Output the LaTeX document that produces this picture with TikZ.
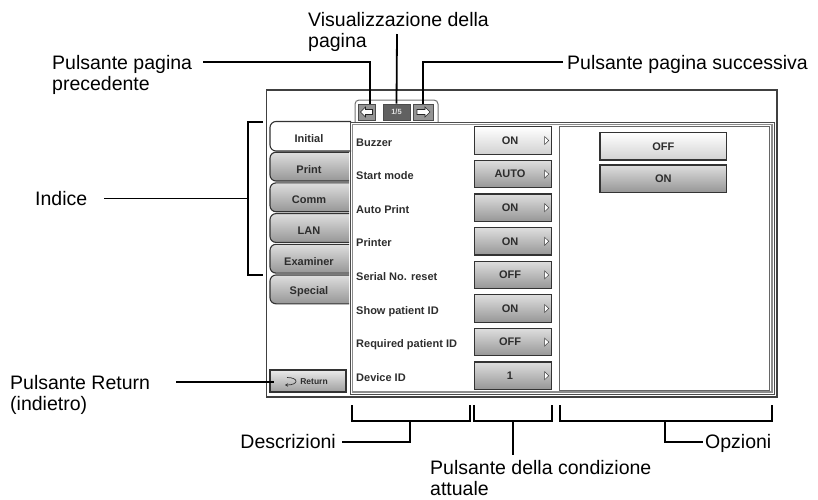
\documentclass[tikz,border=0pt]{standalone}
\usepackage{fontspec}
\setmainfont{Liberation Sans}
\usetikzlibrary{arrows.meta}
\definecolor{btop}{RGB}{222,222,222}
\definecolor{bmid}{RGB}{172,172,172}
\definecolor{bbot}{RGB}{150,150,150}
\definecolor{uitext}{RGB}{45,45,45}
\begin{document}
\begin{tikzpicture}[x=1pt,y=-1pt,
  lbl/.style={font=\fontsize{19.5}{21}\selectfont, inner sep=0pt, align=left},
  ui/.style={font=\fontsize{11}{13}\selectfont\bfseries, text=uitext, inner sep=0pt},
  leader/.style={line width=1.8pt, black},
  gbtn/.style={draw=black!80, line width=1.2pt, top color=btop, middle color=bmid, bottom color=bbot,
    minimum width=77pt, minimum height=27.5pt, inner sep=0pt, font=\fontsize{11}{13}\selectfont\bfseries, text=uitext},
  wbtn/.style={gbtn, top color=white, middle color=white!96!black, bottom color=black!18},
  tabg/.style={draw=black!80, line width=1.1pt, top color=btop, middle color=bmid, bottom color=bbot},
  tabw/.style={draw=black!80, line width=1.1pt, fill=white},
  tri/.style={fill=white, draw=black!75, line width=0.5pt},
  pgbtn/.style={draw=black!70, line width=0.9pt, fill=black!42, inner sep=0pt, minimum height=16pt},
  parrow/.style={fill=white, draw=black!85, line width=0.6pt}
]
\useasboundingbox (0,0) rectangle (818,499);

% outer frame
\draw[black!75, line width=1.4pt] (266.5,90) rectangle (777,397);

% page tab group
\draw[black!55, line width=1pt, rounded corners=4pt] (355,122) -- (355,100) -- (438,100) -- (438,122);
\node[pgbtn, minimum width=17pt] (prevbtn) at (366.5,112) {};
\node[pgbtn, minimum width=27pt, fill=black!62, font=\fontsize{7.5}{8}\selectfont\bfseries, text=white!88!black] (pagebtn) at (396.5,112) {1/5};
\node[pgbtn, minimum width=20pt] (nextbtn) at (423,112) {};
\draw[parrow, shift={(prevbtn.center)}] (-6,0) -- (-1,-5) -- (-1,-2.5) -- (6,-2.5) -- (6,2.5) -- (-1,2.5) -- (-1,5) -- cycle;
\draw[parrow, shift={(nextbtn.center)}] (7,0) -- (2,-5) -- (2,-2.5) -- (-6,-2.5) -- (-6,2.5) -- (2,2.5) -- (2,5) -- cycle;

% left tabs
\path[tabw, rounded corners=6pt] (351,121.5) -- (270,121.5) -- (270,151) -- (351,151);
\path[tabg, rounded corners=6pt] (349,152.2) -- (270,152.2) -- (270,181) -- (349,181);
\path[tabg, rounded corners=6pt] (349,182.9) -- (270,182.9) -- (270,211.7) -- (349,211.7);
\path[tabg, rounded corners=6pt] (349,213.6) -- (270,213.6) -- (270,242.4) -- (349,242.4);
\path[tabg, rounded corners=6pt] (349,244.3) -- (270,244.3) -- (270,273.1) -- (349,273.1);
\path[tabg, rounded corners=6pt] (349,275.0) -- (270,275.0) -- (270,303.8) -- (349,303.8);
\node[ui] (tInitial) at (309,139) {Initial};
\node[ui] (tPrint) at (309,169.2) {Print};
\node[ui] (tComm) at (309,199.9) {Comm};
\node[ui] (tLAN) at (309,230.6) {LAN};
\node[ui] (tExaminer) at (309,261.3) {Examiner};
\node[ui] (tSpecial) at (309,292) {Special};

% return button
\node[draw=black!80, line width=1.1pt, top color=white!92!black, bottom color=black!38, minimum width=76pt, minimum height=22pt, inner sep=0pt] (retbtn) at (308,381) {};
\draw[black!80, line width=0.7pt, -{Stealth[length=3pt,width=3.5pt]}, shift={(retbtn.center)}] (-21,-3.5) .. controls (-9,-3.5) and (-9,4) .. (-23,4);
\node[font=\fontsize{8.5}{10}\selectfont\bfseries, text=uitext, inner sep=0pt] (retTxt) at (314,382) {Return};

% content panel
\draw[black!70, line width=1pt] (350,122) rectangle (774.5,394.5);
\draw[black!45, line width=1.6pt] (352.3,124.3) rectangle (772.2,392.2);
\draw[black!60, line width=1pt] (559,126.5) rectangle (769.5,390);

% rows
\foreach \i/\d/\v/\s in {0/Buzzer/ON/wbtn, 1/Start mode/AUTO/gbtn, 2/Auto Print/ON/gbtn, 3/Printer/ON/gbtn,
  4/Serial No. reset/OFF/gbtn, 5/Show patient ID/ON/gbtn, 6/Required patient ID/OFF/gbtn, 7/Device ID/1/gbtn} {
  \node[\s] (st\i) at (513,{140.5+33.6*\i}) {\v\hspace*{6pt}};
  \node[ui, anchor=base west] (ds\i) at (356,{146+33.6*\i}) {\d};
  \draw[tri, shift={(st\i.east)}] (-7.5,-4) -- (-3.3,0) -- (-7.5,4) -- cycle;
}

% options
\node[wbtn, minimum width=126.5pt, minimum height=27.3pt] (oOff) at (663.3,146.3) {OFF};
\node[gbtn, minimum width=126.5pt, minimum height=27.3pt] (oOn) at (663.3,178.7) {ON};

% labels
\node[lbl, anchor=north west] (visl) at (308,12.5) {Visualizzazione della\\pagina};
\node[lbl, anchor=north west] (prevl) at (52,55) {Pulsante pagina\\precedente};
\node[lbl, anchor=base west] (nextl) at (567,69) {Pulsante pagina successiva};
\node[lbl, anchor=base west] (indl) at (35,205) {Indice};
\node[lbl, anchor=north west] (retl) at (10,375) {Pulsante Return\\(indietro)};
\node[lbl, anchor=base east] (descl) at (336,448) {Descrizioni};
\node[lbl, anchor=north west] (statl) at (430,460) {Pulsante della condizione\\attuale};
\node[lbl, anchor=base west] (optl) at (705,448) {Opzioni};

% leaders
\coordinate (prevA) at (203,62);
\draw[leader] (prevA) -| ([xshift=3.5pt]prevbtn.north);
\coordinate (pageA) at (397,34);
\draw[leader] (pageA) -- (pagebtn.north);
\coordinate (nextA) at (563,62);
\draw[leader] (nextA) -| (nextbtn.north);

\coordinate (idxT) at (263,122);
\coordinate (idxB) at (263,275);
\draw[leader] (idxT) -- (248,122) -- (248,275) -- (idxB);
\coordinate (idxM) at (248,198.5);
\draw[leader] ([xshift=17pt]indl.east |- idxM) -- (idxM);

\coordinate (retA) at (176,382);
\draw[leader] (retA) -- ([xshift=5pt]retbtn.west |- retA);

\draw[leader] (352,405) -- (352,421) -- (470,421) -- (470,405);
\coordinate (descM) at (410,421);
\draw[leader] (descM) |- ([xshift=6pt]descl.east |- 0,442);

\draw[leader] (474,405) -- (474,421) -- (552,421) -- (552,405);
\coordinate (statM) at (513,421);
\draw[leader] (statM) -- (statM |- 0,455);

\draw[leader] (560,405) -- (560,421) -- (772,421) -- (772,405);
\coordinate (optM) at (665,421);
\draw[leader] (optM) |- ([xshift=-2pt]optl.west |- 0,442);
\end{tikzpicture}
\end{document}
